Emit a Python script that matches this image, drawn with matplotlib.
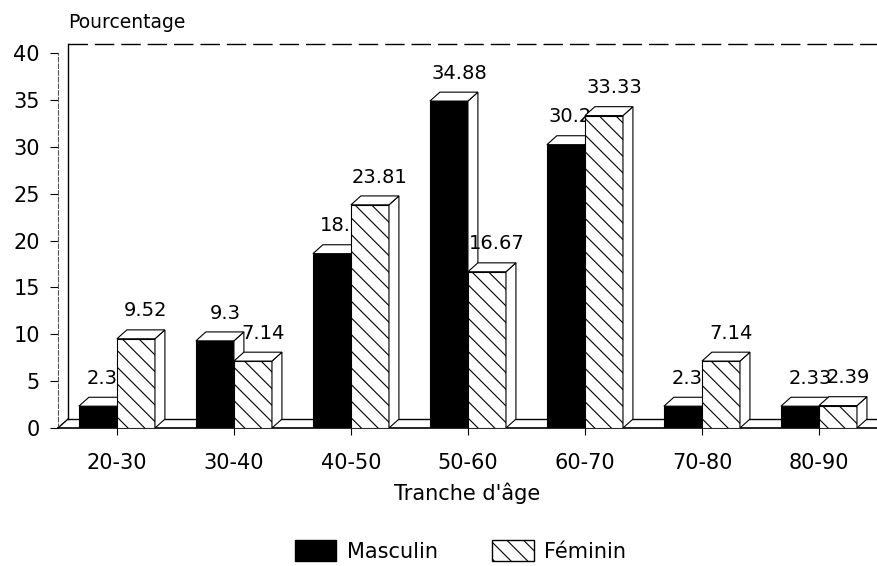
import matplotlib
matplotlib.use('Agg')
import matplotlib.pyplot as plt
from matplotlib.patches import Polygon, Patch

# donnees
tranches = ['20-30', '30-40', '40-50', '50-60', '60-70', '70-80', '80-90']
masculin = [2.33, 9.3, 18.6, 34.88, 30.23, 2.33, 2.33]
feminin = [9.52, 7.14, 23.81, 16.67, 33.33, 7.14, 2.39]
yticks = [0, 5, 10, 15, 20, 25, 30, 35, 40]

plt.rcParams['font.family'] = ['DejaVu Sans']
plt.rcParams['hatch.linewidth'] = 0.8

fig = plt.figure(figsize=(8.77, 5.66), dpi=100)
ax = fig.add_axes([0.0661, 0.2438, 0.9339, 0.679])

xmin, xmax = -0.504, 6.496
ymax = 41
dx, dy = 0.085, 0.95   # profondeur 3D
w = 0.325

ax.set_xlim(xmin, xmax)
ax.set_ylim(0, ymax)

x = list(range(len(tranches)))
xm = [i - w / 2 for i in x]
xf = [i + w / 2 for i in x]

# face avant des barres
ax.bar(xm, masculin, width=w, color='black', edgecolor='black', linewidth=0.8, zorder=2)
ax.bar(xf, feminin, width=w, color='white', edgecolor='black', hatch='\\\\',
       linewidth=0.8, zorder=4)


def faces(xc, h, z):
    x0, x1 = xc - w / 2, xc + w / 2
    top = Polygon([(x0, h), (x0 + dx, h + dy), (x1 + dx, h + dy), (x1, h)],
                  closed=True, facecolor='white', edgecolor='black', linewidth=0.8, zorder=z)
    side = Polygon([(x1, 0), (x1 + dx, dy), (x1 + dx, h + dy), (x1, h)],
                   closed=True, facecolor='white', edgecolor='black', linewidth=0.8, zorder=z)
    ax.add_patch(side)
    ax.add_patch(top)


for i in x:
    faces(xm[i], masculin[i], 2)
    ax.text(xm[i] + dx, masculin[i] + dy + 1.0, f'{masculin[i]:g}', ha='center', va='bottom',
            fontsize=14, zorder=3)
    faces(xf[i], feminin[i], 4)
    ax.text(xf[i] + dx, feminin[i] + dy + 1.0, f'{feminin[i]:g}', ha='center', va='bottom',
            fontsize=14, zorder=5)

# sol et mur du fond
ax.plot([xmin + dx, xmax], [dy, dy], color='black', lw=1, zorder=1, clip_on=False)
ax.plot([xmin, xmin + dx], [0, dy], color='black', lw=1, zorder=1, clip_on=False)
ax.plot([xmin + dx, xmin + dx], [dy, ymax], color='black', lw=1, zorder=1, clip_on=False)
ax.plot([xmin + dx, xmax], [ymax, ymax], color='black', lw=1, ls=(0, (14, 5)),
        zorder=1, clip_on=False)

for s in ['top', 'right']:
    ax.spines[s].set_visible(False)
ax.spines['left'].set_bounds(0, 40)
ax.spines['left'].set_linestyle((0, (4, 2)))
ax.spines['left'].set_color('#555555')
ax.spines['left'].set_linewidth(0.8)
ax.spines['bottom'].set_linewidth(1.2)

ax.set_yticks(yticks)
ax.set_xticks(x)
ax.set_xticklabels(tranches, fontsize=15)
ax.tick_params(axis='y', direction='out', length=6, width=0.8, labelsize=15, pad=7)
ax.tick_params(axis='x', direction='out', length=5, width=0.8, pad=13)

fig.text(0.0775, 0.961, 'Pourcentage', ha='left', va='center', fontsize=13.5)
fig.text(0.533, 0.129, "Tranche d'âge", ha='center', va='center', fontsize=15)

handles = [Patch(facecolor='black', edgecolor='black', label='Masculin'),
           Patch(facecolor='white', edgecolor='black', hatch='\\\\', label='Féminin')]
fig.legend(handles=handles, loc='center', bbox_to_anchor=(0.525, 0.027), ncol=2,
           frameon=False, handlelength=2.0, handleheight=1.2, columnspacing=2.6,
           handletextpad=0.5, fontsize=15)

fig.savefig('out.png', dpi=100)
